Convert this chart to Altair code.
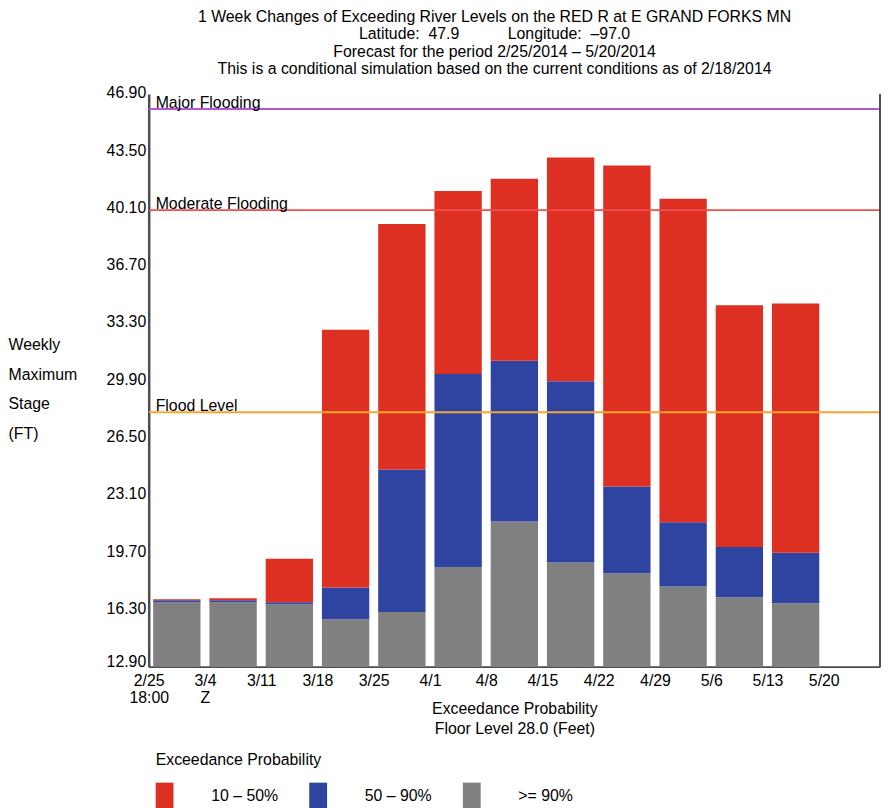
import json
import altair as alt
import pandas as pd

FONT = "Liberation Sans"
NBSP = "\u00a0"

# x-axis week labels (tick i sits at week boundary i); "|" splits lines
WEEK_LABELS = ["2/25|18:00", "3/4|Z", "3/11", "3/18", "3/25", "4/1", "4/8",
               "4/15", "4/22", "4/29", "5/6", "5/13", "5/20"]
# top of each stacked segment per weekly bar (feet)
GRAY_TOP = [16.72, 16.72, 16.60, 15.72, 16.14, 18.82, 21.51, 19.08, 18.45, 17.66, 17.02, 16.66]
BLUE_TOP = [16.84, 16.84, 16.72, 17.60, 24.60, 30.27, 31.06, 29.84, 23.59, 21.47, 20.00, 19.66]
RED_TOP = [16.90, 16.96, 19.31, 32.90, 39.18, 41.14, 41.86, 43.12, 42.65, 40.68, 34.35, 34.45]

Y_TICKS = [12.9, 16.3, 19.7, 23.1, 26.5, 29.9, 33.3, 36.7, 40.1, 43.5, 46.9]
Y_MIN, Y_MAX = 12.9, 46.9
X_MAX = 13

CATEGORIES = ["10 – 50%", "50 – 90%", ">= 90%"]
COLORS = ["#DD2F22", "#2E44A0", "#808080"]

LEVEL_NAMES = ["Major Flooding", "Moderate Flooding", "Flood Level"]
LEVEL_VALUES = [46.0, 40.0, 28.0]
LEVEL_COLORS = ["#B656D8", "#EE5050", "#F5A530"]

TITLE_LINES = [
    "1 Week Changes of Exceeding River Levels on the RED R at E GRAND FORKS MN",
    "Latitude:" + NBSP * 2 + "47.9" + NBSP * 11 + "Longitude:" + NBSP * 2 + "\u201397.0",
    "Forecast for the period 2/25/2014 \u2013 5/20/2014",
    "This is a conditional simulation based on the current conditions as of 2/18/2014",
]

rows = []
for i in range(len(GRAY_TOP)):
    rows.append({"start": i, "end": i + 1, "lo": Y_MIN, "hi": GRAY_TOP[i], "cat": CATEGORIES[2]})
    rows.append({"start": i, "end": i + 1, "lo": GRAY_TOP[i], "hi": BLUE_TOP[i], "cat": CATEGORIES[1]})
    rows.append({"start": i, "end": i + 1, "lo": BLUE_TOP[i], "hi": RED_TOP[i], "cat": CATEGORIES[0]})
bars_df = pd.DataFrame(rows)
levels_df = pd.DataFrame({"name": LEVEL_NAMES, "value": LEVEL_VALUES})

x_scale = alt.Scale(domain=[0, X_MAX], nice=False, zero=False)
y_scale = alt.Scale(domain=[Y_MIN, Y_MAX], nice=False, zero=False)
AXIS_COLOR = "#4d4d4d"

label_expr = "split(" + json.dumps(WEEK_LABELS) + "[datum.value], '|')"

bars = alt.Chart(bars_df).mark_bar(xOffset=4.5, x2Offset=-4.5).encode(
    x=alt.X("start:Q", scale=x_scale, axis=alt.Axis(
        values=list(range(len(WEEK_LABELS))), labelExpr=label_expr,
        title=["Exceedance Probability", "Floor Level 28.0 (Feet)"],
        titleLineHeight=20, titleY=47, titleBaseline="alphabetic",
        titleFontSize=16, titleFontWeight="normal", titleColor="black",
        ticks=False, labelPadding=6, labelLineHeight=17, labelFlush=False,
        labelOverlap=False, labelAngle=0, labelFontSize=16, labelColor="black",
        grid=False, domainColor=AXIS_COLOR, domainWidth=2)),
    x2="end:Q",
    y=alt.Y("lo:Q", scale=y_scale, axis=alt.Axis(
        values=Y_TICKS, format=".2f",
        title=["Weekly", "Maximum", "Stage", "(FT)"], titleAngle=0,
        titleAlign="left", titleBaseline="alphabetic", titleX=-142, titleY=258,
        titleLineHeight=30, titleFontSize=16, titleFontWeight="normal",
        titleColor="black", labelFontSize=16, labelColor="black",
        labelOffset={"condition": {"test": "datum.value < 13", "value": -5}, "value": -1},
        ticks=False, labelPadding=3, labelFlush=False, grid=False,
        domainColor=AXIS_COLOR, domainWidth=2.5)),
    y2="hi:Q",
    color=alt.Color("cat:N", scale=alt.Scale(domain=CATEGORIES, range=COLORS),
                    legend=alt.Legend(
                        title="Exceedance Probability", orient="none",
                        legendX=7, legendY=664, direction="horizontal",
                        symbolType="M-1,-1.55H1V1.55H-1Z", symbolSize=324,
                        symbolStrokeWidth=0, symbolOpacity=1,
                        labelOffset=38, columnPadding=31,
                        titleFontSize=16, titleFontWeight="normal",
                        titleColor="black", labelFontSize=16,
                        labelColor="black", titlePadding=20, padding=0)),
)

rules = alt.Chart(levels_df).mark_rule(strokeWidth=2).encode(
    y=alt.Y("value:Q", scale=y_scale),
    stroke=alt.Stroke("name:N", scale=alt.Scale(domain=LEVEL_NAMES, range=LEVEL_COLORS), legend=None),
)

texts = alt.Chart(levels_df).mark_text(
    align="left", baseline="alphabetic", dx=7, dy=-1, fontSize=16, font=FONT, color="black"
).encode(
    x=alt.datum(0, scale=x_scale),
    y=alt.Y("value:Q", scale=y_scale),
    text="name:N",
)

border = alt.Chart(levels_df).mark_rule(color=AXIS_COLOR, strokeWidth=1.5).encode(
    x=alt.datum(X_MAX, scale=x_scale),
)

chart = alt.layer(bars, rules, texts, border).properties(
    width=738, height=578, autosize="none",
    padding={"left": 142, "top": 83, "right": 1, "bottom": 140},
    title=alt.TitleParams(text=TITLE_LINES, fontSize=16, fontWeight="normal",
                          font=FONT, lineHeight=17.5, anchor="middle", dx=-20,
                          offset=8, color="black"),
).configure(font=FONT).configure_view(strokeWidth=0)

chart.save("out.html", embed_options={"renderer": "svg", "actions": False})
